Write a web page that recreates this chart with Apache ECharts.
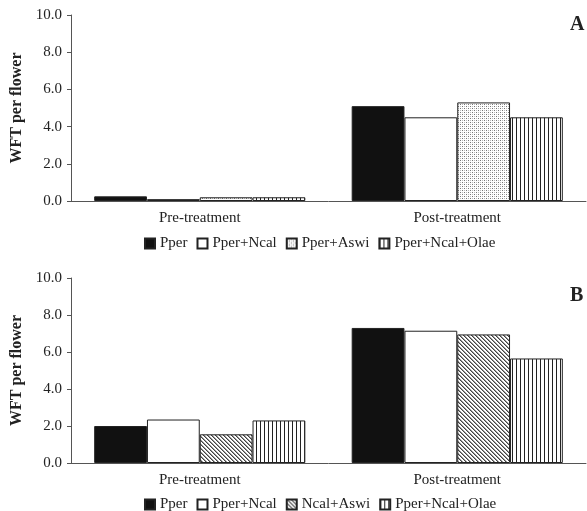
<!DOCTYPE html>
<html><head><meta charset="utf-8">
<script src="https://cdn.jsdelivr.net/npm/echarts@6/dist/echarts.min.js"></script>
<style>html,body{margin:0;padding:0;background:#fff}#c{width:587px;height:511px}</style>
</head><body><div id="c"></div>
<script>
var categories = ['Pre-treatment', 'Post-treatment'];
var namesA = ['Pper', 'Pper+Ncal', 'Pper+Aswi', 'Pper+Ncal+Olae'];
var namesB = ['Pper', 'Pper+Ncal', 'Ncal+Aswi', 'Pper+Ncal+Olae'];
var pperA = [0.25, 5.1];
var ncalA = [0.1, 4.5];
var aswiA = [0.2, 5.3];
var olaeA = [0.2, 4.5];
var pperB = [2.0, 7.3];
var ncalB = [2.35, 7.15];
var aswiB = [1.55, 6.95];
var olaeB = [2.3, 5.65];
var yTicks = ['0.0', '2.0', '4.0', '6.0', '8.0', '10.0'];

function makeCanvas(w, h, draw) {
  var c = document.createElement('canvas'); c.width = w; c.height = h;
  var ctx = c.getContext('2d'); ctx.fillStyle = '#fff'; ctx.fillRect(0, 0, w, h);
  draw(ctx); return c;
}
var dots = makeCanvas(4, 4, function (ctx) {
  ctx.fillStyle = '#777'; ctx.fillRect(0, 0, 1, 1); ctx.fillRect(2, 2, 1, 1);
  ctx.fillStyle = '#bbb'; ctx.fillRect(2, 0, 1, 1); ctx.fillRect(0, 2, 1, 1);
});
var diag = makeCanvas(4, 4, function (ctx) {
  ctx.fillStyle = '#444';
  for (var i = 0; i < 4; i++) { ctx.fillRect(i, i, 1, 1); }
  ctx.fillStyle = '#999';
  for (var j = 0; j < 4; j++) { ctx.fillRect((j + 1) % 4, j, 1, 1); }
});
var vert = makeCanvas(4, 4, function (ctx) {
  ctx.fillStyle = '#222'; ctx.fillRect(0, 0, 1, 4);
});

var font = 'Liberation Serif';
var txt = '#222';
var fills = ['#111', '#fff', null, {image: vert, repeat: 'repeat'}];

function mk(names, arrs, idx, third) {
  return names.map(function (n, i) {
    var f = i === 2 ? {image: third, repeat: 'repeat'} : fills[i];
    return {
      name: n, type: 'bar', xAxisIndex: idx, yAxisIndex: idx,
      data: arrs[i], barGap: '0%', barCategoryGap: '18%',
      itemStyle: {color: f, borderColor: '#222', borderWidth: 1},
      emphasis: {disabled: true}
    };
  });
}

function xA(i) {
  return {
    type: 'category', gridIndex: i, data: categories,
    axisLine: {lineStyle: {color: '#555', width: 1}},
    axisTick: {length: 4, lineStyle: {color: '#555'}},
    axisLabel: {fontFamily: font, fontSize: 15, color: txt, margin: 10}
  };
}
function yA(i) {
  return {
    type: 'value', gridIndex: i, min: 0, max: 10, interval: 2,
    name: 'WFT per flower', nameLocation: 'middle', nameRotate: 90, nameGap: 40,
    nameTextStyle: {fontFamily: font, fontSize: 16, fontWeight: 'bold', color: txt},
    axisLine: {show: true, lineStyle: {color: '#555', width: 1}},
    axisTick: {show: true, length: 4, lineStyle: {color: '#555'}},
    splitLine: {show: false},
    axisLabel: {fontFamily: font, fontSize: 15, color: txt, margin: 9,
      formatter: function (v) { return yTicks[Math.round(v / 2)]; }}
  };
}

var chart = echarts.init(document.getElementById('c'), null, {renderer: 'canvas'});
chart.setOption({
  animation: false,
  backgroundColor: '#fff',
  grid: [
    {left: 71, top: 15, width: 515, height: 186},
    {left: 71, top: 278, width: 515, height: 185}
  ],
  xAxis: [xA(0), xA(1)],
  yAxis: [yA(0), yA(1)],
  legend: [
    {data: namesA, left: 139, top: 231, icon: 'rect', itemWidth: 10, itemHeight: 10, itemGap: 9,
      textStyle: {fontFamily: font, fontSize: 15, color: txt}, selectedMode: false},
    {data: namesB, left: 139, top: 492, icon: 'rect', itemWidth: 10, itemHeight: 10, itemGap: 9,
      textStyle: {fontFamily: font, fontSize: 15, color: txt}, selectedMode: false}
  ],
  graphic: [
    {type: 'text', left: 570, top: 15, style: {text: 'A', font: 'bold 20px "Liberation Serif"', fill: txt}},
    {type: 'text', left: 570, top: 286, style: {text: 'B', font: 'bold 20px "Liberation Serif"', fill: txt}}
  ],
  series: mk(namesA, [pperA, ncalA, aswiA, olaeA], 0, dots)
    .concat(mk(namesB, [pperB, ncalB, aswiB, olaeB], 1, diag))
});
</script></body></html>
